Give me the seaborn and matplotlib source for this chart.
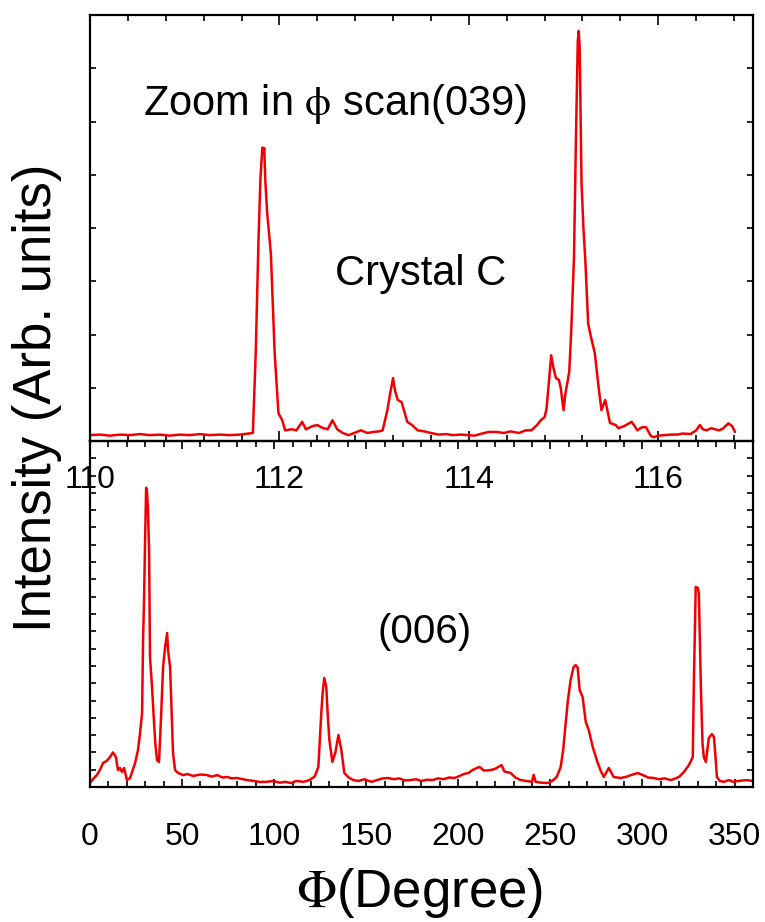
import matplotlib
matplotlib.use("Agg")
import matplotlib.pyplot as plt
import seaborn as sns
import pandas as pd
from matplotlib.ticker import MultipleLocator, FixedLocator

# ---------------- data ----------------
# Top panel: zoom-in phi scan (039), Crystal C
zoom_phi = [110.00, 110.11, 110.21, 110.32, 110.42, 110.53, 110.63, 110.74, 110.84, 110.95,
            111.05, 111.16, 111.26, 111.37, 111.47, 111.58, 111.68, 111.72, 111.75, 111.78,
            111.80, 111.82, 111.83, 111.84, 111.85, 111.87, 111.91, 111.95, 111.99, 112.03,
            112.06, 112.13, 112.18, 112.24, 112.28, 112.35, 112.40, 112.45, 112.51, 112.56,
            112.61, 112.67, 112.73, 112.79, 112.86, 112.93, 112.99, 113.05, 113.09, 113.14,
            113.17, 113.20, 113.22, 113.25, 113.29, 113.35, 113.40, 113.46, 113.53, 113.60,
            113.68, 113.76, 113.83, 113.92, 113.99, 114.06, 114.14, 114.21, 114.29, 114.37,
            114.44, 114.53, 114.60, 114.66, 114.72, 114.76, 114.80, 114.82, 114.84, 114.87,
            114.89, 114.92, 114.95, 114.97, 115.00, 115.02, 115.04, 115.06, 115.08, 115.11,
            115.13, 115.15, 115.16, 115.17, 115.18, 115.19, 115.21, 115.23, 115.26, 115.29,
            115.33, 115.37, 115.40, 115.44, 115.49, 115.55, 115.58, 115.64, 115.72, 115.78,
            115.83, 115.87, 115.92, 115.95, 116.00, 116.06, 116.13, 116.20, 116.26, 116.34,
            116.40, 116.44, 116.47, 116.51, 116.56, 116.60, 116.64, 116.68, 116.74, 116.78,
            116.81]
zoom_int = [0.11, 0.12, 0.10, 0.12, 0.11, 0.13, 0.11, 0.12, 0.10, 0.12,
            0.11, 0.13, 0.11, 0.12, 0.11, 0.12, 0.14, 0.15, 1.65, 3.82,
            4.94, 5.51, 5.40, 5.50, 4.94, 4.30, 3.52, 1.65, 0.52, 0.39,
            0.20, 0.22, 0.20, 0.36, 0.22, 0.28, 0.30, 0.25, 0.22, 0.39,
            0.22, 0.15, 0.11, 0.15, 0.20, 0.15, 0.17, 0.18, 0.20, 0.58,
            0.90, 1.18, 0.95, 0.77, 0.73, 0.36, 0.30, 0.20, 0.18, 0.15,
            0.12, 0.13, 0.11, 0.12, 0.11, 0.10, 0.14, 0.17, 0.17, 0.15,
            0.18, 0.15, 0.20, 0.20, 0.30, 0.39, 0.45, 0.60, 1.00, 1.61,
            1.40, 1.18, 1.15, 1.00, 0.58, 0.90, 1.09, 1.30, 2.02, 3.43,
            5.60, 7.50, 7.70, 7.40, 6.14, 4.83, 4.00, 3.39, 2.20, 1.95,
            1.65, 1.01, 0.58, 0.77, 0.34, 0.30, 0.24, 0.28, 0.36, 0.20,
            0.26, 0.26, 0.10, 0.07, 0.10, 0.11, 0.12, 0.12, 0.14, 0.13,
            0.20, 0.30, 0.22, 0.20, 0.24, 0.22, 0.20, 0.23, 0.33, 0.28,
            0.17]

# Bottom panel: full phi scan (006)
full_phi = [0.0, 2.0, 3.8, 5.5, 7.1, 9.0, 10.9, 12.5, 14.1, 15.2,
            16.3, 17.4, 18.5, 20.1, 21.8, 23.0, 24.5, 26.1, 27.2, 28.3,
            28.8, 29.4, 29.9, 30.5, 31.0, 31.5, 32.1, 32.6, 33.7, 34.8,
            35.5, 36.4, 37.5, 38.6, 39.7, 40.8, 41.9, 42.4, 43.5, 44.6,
            45.1, 46.2, 47.9, 50.6, 53.0, 56.0, 60.0, 63.6, 66.0, 69.1,
            72.0, 74.5, 77.0, 79.9, 83.0, 85.4, 89.0, 92.4, 96.0, 99.5,
            103.0, 106.0, 109.3, 112.0, 116.0, 119.1, 122.0, 124.0, 125.6, 126.4,
            127.2, 128.3, 129.2, 130.0, 131.6, 133.2, 134.9, 136.5, 138.1, 140.5,
            143.0, 146.0, 149.0, 152.8, 156.0, 159.0, 162.0, 165.0, 168.0, 171.0,
            174.0, 177.0, 180.0, 183.0, 186.0, 189.0, 192.0, 195.0, 197.9, 201.0,
            203.0, 205.5, 208.0, 211.5, 214.0, 217.5, 220.0, 223.5, 225.0, 228.4,
            231.0, 233.8, 237.0, 240.0, 240.9, 242.0, 245.0, 248.5, 251.0, 253.4,
            255.6, 257.0, 258.3, 259.5, 261.0, 262.6, 263.7, 264.8, 265.9, 267.5,
            269.2, 270.8, 273.0, 275.7, 277.5, 279.0, 281.7, 284.4, 288.2, 291.5,
            294.0, 297.4, 300.0, 303.0, 306.0, 309.0, 312.0, 315.4, 318.0, 320.0,
            322.5, 325.2, 327.3, 327.9, 328.9, 330.1, 330.6, 331.7, 332.6, 333.3,
            334.4, 336.0, 337.7, 338.8, 339.6, 340.4, 342.0, 344.0, 347.0, 349.1,
            352.0, 356.2, 360.0]
full_int = [0.23, 0.50, 0.70, 1.00, 1.39, 1.50, 1.73, 2.00, 1.73, 0.98,
            1.10, 0.87, 1.10, 0.40, 0.52, 0.90, 1.39, 2.14, 3.12, 4.28,
            8.30, 11.0, 14.1, 17.3, 17.05, 16.0, 13.7, 7.50, 5.78, 3.70,
            2.50, 1.56, 1.45, 4.05, 6.94, 8.10, 8.90, 7.90, 6.94, 3.47,
            1.97, 0.98, 0.81, 0.69, 0.75, 0.64, 0.72, 0.69, 0.60, 0.69,
            0.55, 0.58, 0.50, 0.52, 0.45, 0.40, 0.35, 0.29, 0.30, 0.35,
            0.25, 0.30, 0.23, 0.35, 0.30, 0.40, 0.60, 1.16, 4.28, 5.50,
            6.30, 5.80, 4.00, 2.72, 1.45, 1.97, 3.00, 2.14, 0.81, 0.55,
            0.40, 0.35, 0.45, 0.30, 0.40, 0.50, 0.52, 0.45, 0.50, 0.38,
            0.40, 0.45, 0.35, 0.42, 0.40, 0.50, 0.45, 0.55, 0.52, 0.65,
            0.75, 0.81, 1.00, 1.16, 0.95, 0.98, 1.05, 1.27, 0.90, 0.81,
            0.55, 0.40, 0.35, 0.30, 0.70, 0.30, 0.25, 0.23, 0.35, 0.58,
            1.16, 2.20, 3.70, 5.00, 6.20, 6.94, 7.05, 6.90, 5.60, 5.20,
            3.76, 3.30, 2.31, 1.39, 0.90, 0.58, 1.10, 0.58, 0.52, 0.60,
            0.70, 0.81, 0.70, 0.55, 0.52, 0.45, 0.50, 0.40, 0.50, 0.60,
            0.87, 1.27, 1.73, 6.00, 11.56, 11.50, 11.20, 5.80, 2.50, 1.73,
            1.45, 2.83, 3.06, 2.90, 1.80, 0.58, 0.35, 0.30, 0.40, 0.30,
            0.35, 0.40, 0.35]

zoom_ticks = [110, 112, 114, 116]
full_ticks = [0, 50, 100, 150, 200, 250, 300, 350]

# ---------------- figure ----------------
sns.set_style("ticks")
plt.rcParams['font.family'] = ['Liberation Sans', 'DejaVu Sans']
plt.rcParams['mathtext.fontset'] = 'stix'
plt.rcParams['text.color'] = 'black'
plt.rcParams['xtick.color'] = 'black'
plt.rcParams['ytick.color'] = 'black'
plt.rcParams['xtick.labelcolor'] = 'black'
plt.rcParams['axes.labelcolor'] = 'black'

fig = plt.figure(figsize=(7.65, 9.22), dpi=100)
ax_top = fig.add_axes([0.1176, 0.5217, 0.8667, 0.4620])
ax_bot = fig.add_axes([0.1176, 0.1464, 0.8667, 0.3753])

red = '#f00000'
df_top = pd.DataFrame({'phi': zoom_phi, 'I': zoom_int})
df_bot = pd.DataFrame({'phi': full_phi, 'I': full_int})
sns.lineplot(data=df_top, x='phi', y='I', ax=ax_top, color=red, lw=1.8, estimator=None)
sns.lineplot(data=df_bot, x='phi', y='I', ax=ax_bot, color=red, lw=1.8, estimator=None)

for ax in (ax_top, ax_bot):
    ax.set_xlabel('')
    ax.set_ylabel('')
    for s in ax.spines.values():
        s.set_visible(True)
        s.set_linewidth(1.6)
        s.set_color('black')
    ax.yaxis.set_major_locator(MultipleLocator(1))
    ax.tick_params(axis='y', which='both', direction='in', left=True, right=True,
                   labelleft=False, length=4, width=1.2, color='black')

# top panel
ax_top.set_xlim(110, 117)
ax_top.set_ylim(0, 8)
ax_top.xaxis.set_major_locator(FixedLocator(zoom_ticks))
ax_top.xaxis.set_minor_locator(MultipleLocator(0.4))
ax_top.tick_params(axis='x', which='major', direction='in', top=True, bottom=True,
                   length=7, width=1.2, labelsize=23, labelcolor='black')
ax_top.tick_params(axis='x', which='minor', direction='in', top=True, bottom=True,
                   length=4, width=1.2)
ax_top.set_zorder(3)
ax_top.patch.set_visible(False)

# bottom panel
ax_bot.set_xlim(0, 360)
ax_bot.set_ylim(0, 20)
ax_bot.xaxis.set_major_locator(FixedLocator(full_ticks))
ax_bot.xaxis.set_minor_locator(MultipleLocator(10))
ax_bot.tick_params(axis='x', which='major', direction='in', top=True, bottom=True,
                   labeltop=False, length=6, width=1.2, labelsize=23, labelcolor='black')
ax_bot.tick_params(axis='x', which='minor', direction='in', top=True, bottom=True,
                   length=4, width=1.2)

# label distances from the axis line
ax_top.xaxis.set_tick_params(which='major', pad=17)
ax_bot.xaxis.set_tick_params(which='major', pad=25)

# annotations
ax_top.text(0.37, 0.79, r"Zoom in $\mathrm{\phi}$ scan(039)", transform=ax_top.transAxes,
            ha='center', va='center', fontsize=30, color='black')
ax_top.text(0.498, 0.393, "Crystal C", transform=ax_top.transAxes,
            ha='center', va='center', fontsize=30, color='black')
ax_bot.text(0.505, 0.448, "(006)", transform=ax_bot.transAxes,
            ha='center', va='center', fontsize=29, color='black')

fig.text(0.048, 0.569, "Intensity (Arb. units)", rotation=90, ha='center', va='center',
         fontsize=38, color='black')
fig.text(0.549, 0.0315, r"$\Phi$(Degree)", ha='center', va='center', fontsize=38,
         color='black')

fig.savefig("out.png", dpi=100)
